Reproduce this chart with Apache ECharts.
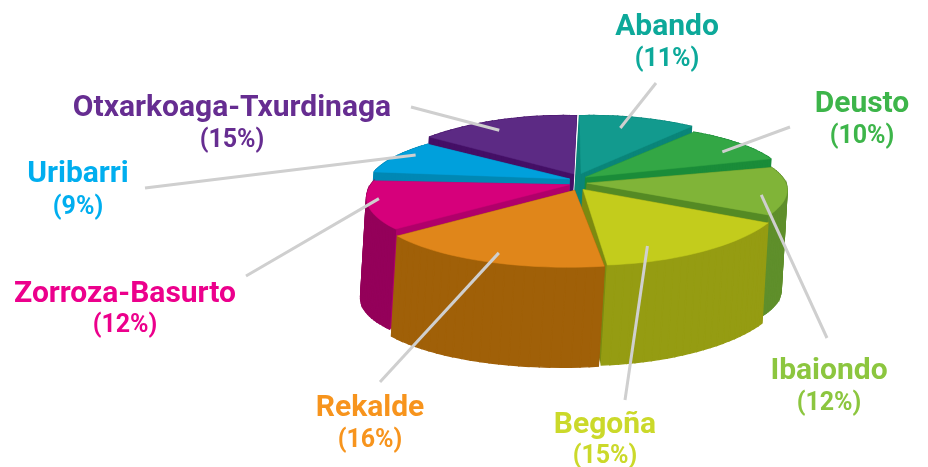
<!DOCTYPE html>
<html><head><meta charset="utf-8">
<style>html,body{margin:0;padding:0;background:#fff}#c{width:928px;height:467px}</style>
<script src="https://cdn.jsdelivr.net/npm/echarts@6/dist/echarts.min.js"></script>
</head><body><div id="c"></div>
<script>
// data
const categories = ['Abando','Deusto','Ibaiondo','Begoña','Rekalde','Zorroza-Basurto','Uribarri','Otxarkoaga-Txurdinaga'];
const shares = [11,10,12,15,16,12,9,15];
// colours
const topColors  = ['#129A8E','#33A745','#80B438','#C3CC1C','#E0861A','#D6007B','#00A0DC','#5C2A84'];
const wallColors = ['#0A8579','#1A8C39','#5F8F2B','#959C12','#A06008','#94005A','#0088B4','#440F66'];
const cutColors  = ['#078174','#1A8C39','#548A24','#7C8A10','#8A5206','#B0006A','#0088B4','#440F66'];
const textColors = ['#0DA99A','#3DB54A','#8CC63F','#CBD92A','#F7941D','#EC008C','#00AEEF','#662D91'];
// leader anchor inside each slice: fraction of sweep, fraction of radius
const leaderU = [.42,.59,.61,.73,.48,.59,.62,.44];
const leaderR = [.826,.853,.885,.846,.918,.947,.921,.874];
// layout
const leaderOut = [[656,83],[790,127],[827,338],[625,400],[380,382],[246,276],[145,188],[411,107]];
const labelPos  = [[667,27,60],[862,104,137],[829,371,404],[605,425,457],[370,408,441],[125,294,326],[78,174,208],[232,108,141]];
const G = {cx:578,cy:181,rx:207,ry:74,p:.133,h:100,sx:-6,apex:9,gapY:4.5,gapX:1.5,kRight:.07,qLeft:.065};

const rad = d => d*Math.PI/180;
const total = shares.reduce((a,b)=>a+b,0);
const starts = []; let acc = 0;
shares.forEach(s=>{starts.push(acc/total*360); acc+=s;});
const project = (t,r)=>{
  const X=r*Math.sin(rad(t)), Y=r*Math.cos(rad(t)), d=1+G.p*Y;
  const w = X>=0 ? 1-G.kRight*Y*Y : 1-G.qLeft*Y;
  return [G.cx+G.rx*X*w/d, G.cy-G.ry*Y/d];
};
// corner offset at a boundary: the rear slice lifts, the front one drops
const startOff = t=>[ G.gapX*Math.cos(rad(t)),
                      (Math.sin(rad(t))>=0? 1:-1)*G.gapY*Math.abs(Math.sin(rad(t)))];
const endOff   = t=>[-startOff(t)[0], -startOff(t)[1]];
function rim(i){
  const a=starts[i], b=a+shares[i]/total*360, n=24, pts=[];
  const o0=startOff(a%360), o1=endOff(b%360);
  for(let k=0;k<=n;k++){
    const u=k/n, q=project(a+(b-a)*u,1);
    pts.push([q[0]+o0[0]+(o1[0]-o0[0])*u, q[1]+o0[1]+(o1[1]-o0[1])*u]);
  }
  return pts;
}
const down = p=>[p[0]+G.sx,p[1]+G.h];
function apexOf(i){
  const m=rad(starts[i]+shares[i]/total*180);
  return [G.cx+G.apex*Math.sin(m), G.cy+1-G.apex*Math.cos(m)];
}
const poly=(points,fill,lw)=>({type:'polygon',shape:{points},style:{fill,stroke:fill,lineWidth:lw||.5}});

function renderSlice(params,api){
  const i=api.value(0), r=rim(i), ap=apexOf(i), f=r[0], l=r[r.length-1];
  const wall=[];
  for(let k=0;k<r.length-1;k++) wall.push(poly([r[k],r[k+1],down(r[k+1]),down(r[k])],wallColors[i],1.4));
  return {type:'group',children:[
    poly([ap,f,down(f),down(ap)],cutColors[i]),
    poly([ap,l,down(l),down(ap)],cutColors[i])
  ].concat(wall,[poly([ap].concat(r),topColors[i])])};
}
function renderLabel(params,api){
  const i=api.value(0);
  const a=starts[i], sweep=shares[i]/total*360;
  const inner=project(a+sweep*leaderU[i],leaderR[i]);
  const p=labelPos[i];
  return {type:'group',children:[
    {type:'line',shape:{x1:leaderOut[i][0],y1:leaderOut[i][1],x2:inner[0],y2:inner[1]},
     style:{stroke:'#CFCFCF',lineWidth:3}},
    {type:'text',style:{text:categories[i],x:p[0],y:p[1],fill:textColors[i],align:'center',verticalAlign:'middle',
      font:'700 30px Roboto, sans-serif'}},
    {type:'text',style:{text:'('+shares[i]+'%)',x:p[0],y:p[2],fill:textColors[i],align:'center',verticalAlign:'middle',
      font:'700 25px Roboto, sans-serif'}}
  ]};
}
const depth=i=>Math.cos(rad(starts[i]+shares[i]/total*180));
const order=categories.map((_,i)=>i).sort((x,y)=>depth(y)-depth(x));
const chart=echarts.init(document.getElementById('c'),null,{renderer:'canvas'});
chart.setOption({
  animation:false,
  series:[
    {type:'custom',coordinateSystem:'none',silent:true,z:1,renderItem:renderSlice,
     data:order.map(i=>({name:categories[i],value:[i,shares[i]]}))},
    {type:'custom',coordinateSystem:'none',silent:true,z:2,renderItem:renderLabel,
     data:categories.map((n,i)=>({name:n,value:[i,shares[i]]}))}
  ]
});
</script></body></html>
